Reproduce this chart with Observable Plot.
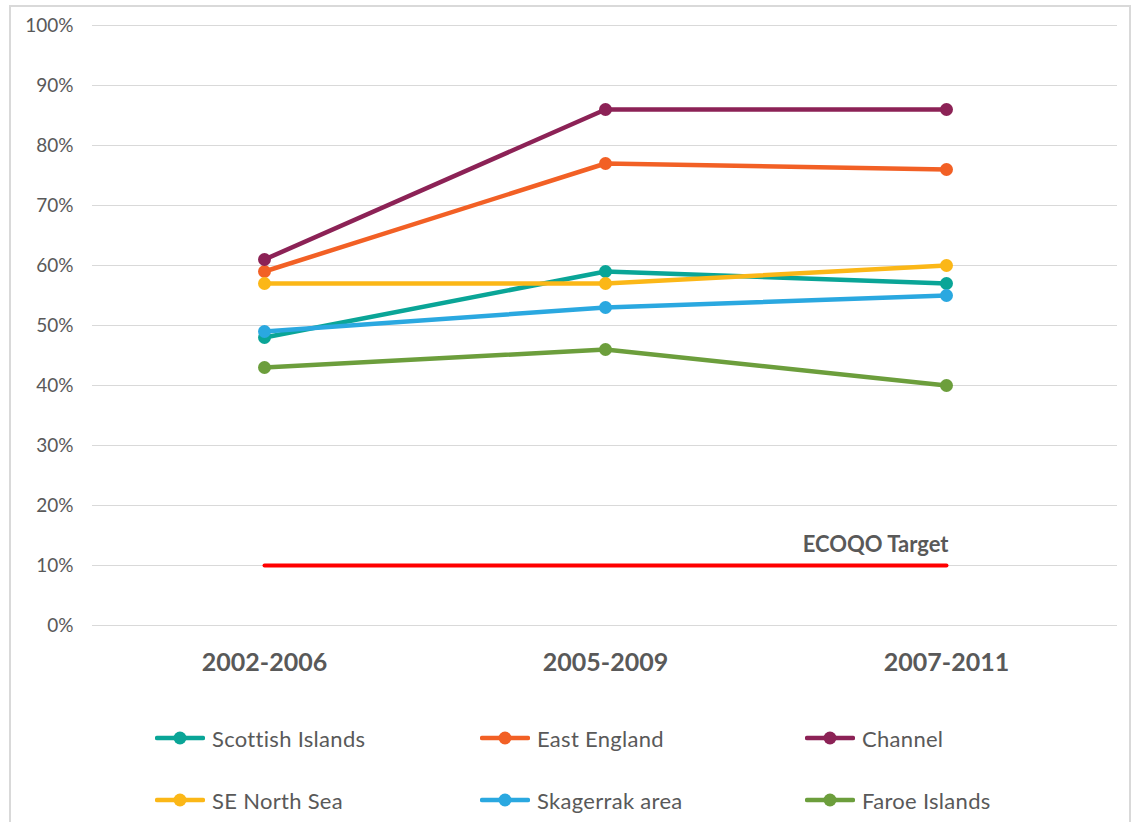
<!DOCTYPE html>
<html>
<head>
<meta charset="utf-8">
<script src="https://cdn.jsdelivr.net/npm/d3@7"></script>
<script src="https://cdn.jsdelivr.net/npm/@observablehq/plot@0.6"></script>
<style>
  html, body { margin: 0; padding: 0; background: #fff; }
  body { width: 1135px; height: 822px; overflow: hidden; position: relative; font-family: Lato, "Open Sans", sans-serif; }
  #frame { position: absolute; left: 9px; top: 5px; width: 1122px; height: 900px; border: 2px solid #d9d9d9; box-sizing: border-box; }
  #chart { position: absolute; left: 0; top: 0; }
  #legend { position: absolute; left: 0; top: 0; width: 1135px; height: 822px; pointer-events: none; }
  .item { position: absolute; display: flex; align-items: center; height: 30px; font-size: 22px; letter-spacing: 0.3px; color: #595959; }
  .item svg { margin-right: 7px; }
</style>
</head>
<body>
<div id="frame"></div>
<div id="chart"></div>
<div id="legend"></div>
<script>
const periods = ["2002-2006", "2005-2009", "2007-2011"];
const seriesNames = ["Scottish Islands", "East England", "Channel", "SE North Sea", "Skagerrak area", "Faroe Islands"];
const seriesColors = ["#0AA597", "#F26025", "#8C2256", "#FBB717", "#2AA8E0", "#6C9E3C"];
const scottishIslands = [0.48, 0.59, 0.57];
const eastEngland = [0.59, 0.77, 0.76];
const channel = [0.61, 0.86, 0.86];
const seNorthSea = [0.57, 0.57, 0.60];
const skagerrak = [0.49, 0.53, 0.55];
const faroeIslands = [0.43, 0.46, 0.40];
const targetValues = [0.10, 0.10, 0.10];
const targetLabel = "ECOQO Target";
const yTicks = [0, 0.1, 0.2, 0.3, 0.4, 0.5, 0.6, 0.7, 0.8, 0.9, 1.0];

const seriesValues = [scottishIslands, eastEngland, channel, seNorthSea, skagerrak, faroeIslands];
const rows = [];
seriesNames.forEach((name, i) => {
  periods.forEach((p, j) => rows.push({series: name, period: p, value: seriesValues[i][j]}));
});
const target = periods.map((p, j) => ({period: p, value: targetValues[j]}));

const marks = [
  Plot.gridY(yTicks, {stroke: "#d9d9d9", strokeOpacity: 1, strokeWidth: 1}),
  Plot.line(target, {x: "period", y: "value", stroke: "#FF0000", strokeWidth: 4, strokeLinecap: "round"}),
  Plot.text(target.slice(-1), {x: "period", y: "value", text: () => targetLabel, textAnchor: "end", dy: -21, dx: 2, fill: "#595959", fontWeight: "bold", fontSize: 22, letterSpacing: "0.4px"})
];
seriesNames.forEach(name => {
  const d = rows.filter(r => r.series === name);
  marks.push(Plot.line(d, {x: "period", y: "value", stroke: "series", strokeWidth: 4.5, strokeLinecap: "round", strokeLinejoin: "round"}));
  marks.push(Plot.dot(d, {x: "period", y: "value", fill: "series", r: 6.5, stroke: "none"}));
});

const chart = Plot.plot({
  width: 1135,
  height: 690,
  marginLeft: 92,
  marginRight: 18,
  marginTop: 25,
  marginBottom: 65,
  style: {fontFamily: "Lato, 'Open Sans', sans-serif", color: "#595959", background: "transparent", overflow: "visible"},
  x: {type: "point", domain: periods, padding: 0.5, label: null, tickSize: 0, tickPadding: 28, fontSize: 25},
  y: {domain: [0, 1], label: null, ticks: yTicks, tickFormat: d3.format(".0%"), tickSize: 0, tickPadding: 19},
  color: {domain: seriesNames, range: seriesColors},
  marks: [
    ...marks,
    Plot.axisX({tickSize: 0, tickPadding: 28, fontSize: 25, fontWeight: "bold", fill: "#595959", label: null}),
    Plot.axisY(yTicks, {tickSize: 0, tickPadding: 19, fontSize: 19, fill: "#595959", tickFormat: d3.format(".0%"), label: null})
  ]
});
document.getElementById("chart").appendChild(chart);

// Legend (HTML, below/around the plot SVG)
const legend = document.getElementById("legend");
const colX = [155, 480, 805];
const rowY = [738, 800];
seriesNames.forEach((name, i) => {
  const item = document.createElement("div");
  item.className = "item";
  item.style.left = colX[i % 3] + "px";
  item.style.top = (rowY[Math.floor(i / 3)] - 15) + "px";
  const c = seriesColors[i];
  item.innerHTML = `<svg width="50" height="16"><line x1="2" y1="8" x2="48" y2="8" stroke="${c}" stroke-width="4.5" stroke-linecap="round"/><circle cx="25" cy="8" r="6.5" fill="${c}"/></svg><span>${name}</span>`;
  legend.appendChild(item);
});
</script>
</body>
</html>
